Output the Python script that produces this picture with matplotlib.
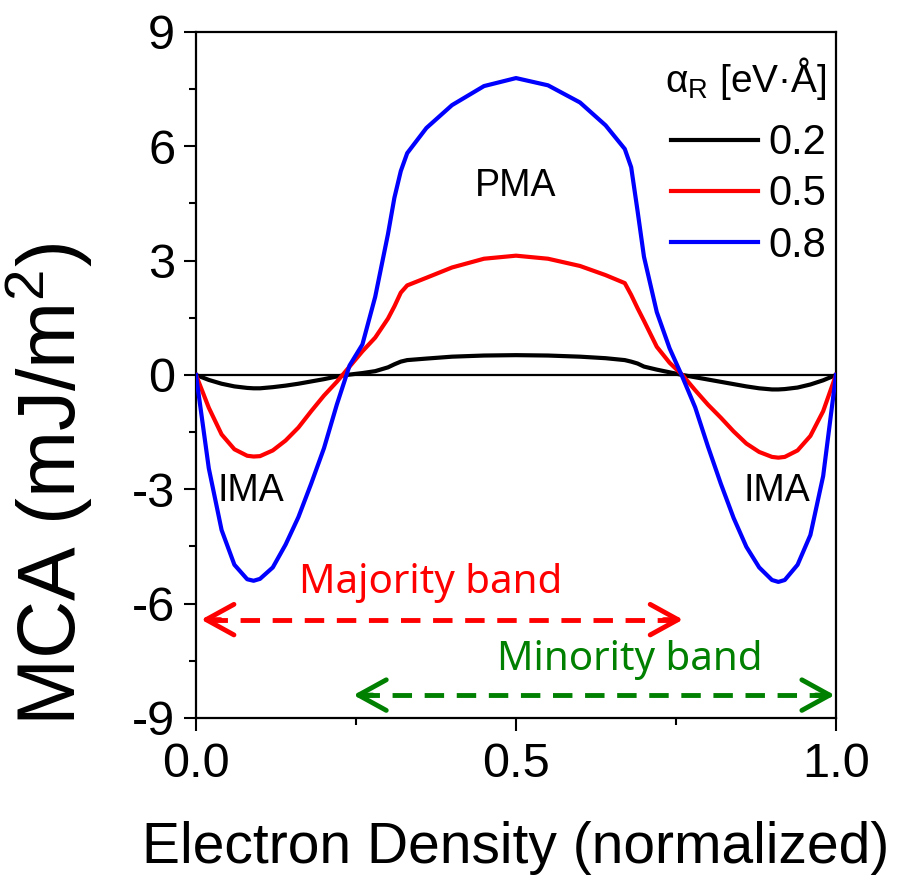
import numpy as np
import matplotlib
matplotlib.use('Agg')
import matplotlib.pyplot as plt

plt.rcParams['font.family'] = ['Liberation Sans', 'DejaVu Sans']
plt.rcParams['axes.unicode_minus'] = False
plt.rcParams['mathtext.fontset'] = 'custom'
plt.rcParams['mathtext.rm'] = 'Liberation Sans'
plt.rcParams['mathtext.it'] = 'Liberation Sans'

# data
densidad = [0.00, 0.02, 0.04, 0.06, 0.08, 0.09, 0.10, 0.12, 0.14, 0.16, 0.18,
            0.20, 0.22, 0.24, 0.26, 0.28, 0.30, 0.31, 0.32, 0.33, 0.36, 0.40,
            0.45, 0.50, 0.55, 0.60, 0.64, 0.67, 0.68, 0.69, 0.70, 0.72, 0.74,
            0.76, 0.78, 0.80, 0.82, 0.84, 0.86, 0.88, 0.90, 0.91, 0.92, 0.94,
            0.96, 0.98, 1.00]
mca_02 = [0.00, -0.13, -0.23, -0.30, -0.34, -0.35, -0.35, -0.32, -0.28, -0.23, -0.17,
          -0.11, -0.04, 0.01, 0.05, 0.10, 0.20, 0.28, 0.35, 0.39, 0.43, 0.48,
          0.51, 0.52, 0.51, 0.48, 0.44, 0.39, 0.35, 0.30, 0.22, 0.14, 0.07,
          0.00, -0.06, -0.12, -0.18, -0.24, -0.30, -0.35, -0.38, -0.38, -0.37, -0.33,
          -0.25, -0.14, 0.00]
mca_05 = [0.00, -0.86, -1.56, -1.95, -2.12, -2.14, -2.13, -1.98, -1.72, -1.38, -0.95,
          -0.54, -0.18, 0.22, 0.62, 0.98, 1.48, 1.80, 2.16, 2.35, 2.55, 2.82,
          3.05, 3.13, 3.05, 2.86, 2.62, 2.41, 2.10, 1.75, 1.42, 0.74, 0.32,
          0.00, -0.40, -0.78, -1.12, -1.48, -1.80, -2.02, -2.15, -2.17, -2.15, -1.98,
          -1.60, -0.95, 0.00]
mca_08 = [0.00, -2.45, -4.07, -4.98, -5.36, -5.40, -5.35, -5.05, -4.45, -3.73, -2.85,
          -1.92, -0.78, 0.25, 0.80, 2.05, 3.70, 4.65, 5.35, 5.82, 6.48, 7.08,
          7.58, 7.79, 7.60, 7.15, 6.55, 5.93, 5.45, 4.30, 3.10, 1.65, 0.70,
          -0.05, -0.85, -1.88, -2.85, -3.75, -4.51, -5.05, -5.38, -5.43, -5.38, -4.98,
          -4.20, -2.65, 0.00]
etiquetas = ['0.2', '0.5', '0.8']
colores = ['black', 'red', 'blue']

mayoritaria = (0.008, 0.761)
minoritaria = (0.246, 0.998)
y_mayoritaria = -6.42
y_minoritaria = -8.40

fig = plt.figure(figsize=(9.02, 8.83), dpi=100)
ax = fig.add_axes([0.2173, 0.1869, 0.7095, 0.7769])

ax.axhline(0, color='black', lw=1.6, zorder=1)
for yy, lab, col in zip([mca_02, mca_05, mca_08], etiquetas, colores):
    ax.plot(densidad, yy, color=col, lw=3.0, label=lab, zorder=3)

ax.set_xlim(0, 1)
ax.set_ylim(-9, 9)
ax.set_xticks([0.0, 0.5, 1.0])
ax.set_xticklabels(['0.0', '0.5', '1.0'])
ax.set_xticks([0.25, 0.75], minor=True)
ax.set_yticks([-9, -6, -3, 0, 3, 6, 9])
ax.set_yticks([-7.5, -4.5, -1.5, 1.5, 4.5, 7.5], minor=True)
ax.tick_params(which='major', direction='out', length=9, width=1.5, labelsize=35, pad=6)
ax.tick_params(which='minor', direction='out', length=5, width=1.5)
ax.tick_params(axis='x', which='major', pad=8)
for s in ax.spines.values():
    s.set_linewidth(1.6)

ax.set_xlabel('Electron Density (normalized)', fontsize=41)
ax.xaxis.set_label_coords(0.5, -0.15)
ax.set_ylabel('MCA (mJ/m$\\mathregular{^2}$)', fontsize=58)
ax.yaxis.set_label_coords(-0.16, 0.34)

ax.text(0.5, 4.95, 'PMA', fontsize=27, ha='center', va='center')
ax.text(0.085, -3.05, 'IMA', fontsize=27, ha='center', va='center')
ax.text(0.908, -3.05, 'IMA', fontsize=27, ha='center', va='center')

# flechas de las bandas
for (x0, x1), yb, col in [(mayoritaria, y_mayoritaria, 'red'),
                          (minoritaria, y_minoritaria, 'green')]:
    ax.plot([x0 + 0.01, x1 - 0.01], [yb, yb], color=col, lw=3.5, ls=(0, (4, 2.6)))
    for xt, xf in [(x0, x0 + 0.03), (x1, x1 - 0.03)]:
        ax.annotate('', xy=(xt, yb), xytext=(xf, yb),
                    arrowprops=dict(arrowstyle='->,head_length=1.0,head_width=0.55',
                                    color=col, lw=3.5, mutation_scale=20,
                                    shrinkA=0, shrinkB=0))
ax.text(0.366, -5.45, 'Majority band', color='red', fontsize=29, family='Noto Sans',
        ha='center', va='center')
ax.text(0.677, -7.48, 'Minority band', color='green', fontsize=29, family='Noto Sans',
        ha='center', va='center')

leg = ax.legend(loc='upper right', bbox_to_anchor=(0.985, 0.966), frameon=False,
                fontsize=30, title='$\\mathregular{α_R}$ [eV·Å]', title_fontsize=28,
                handlelength=2.1, handletextpad=0.25, labelspacing=0.27,
                borderpad=0, borderaxespad=0)
leg._legend_box.align = 'right'
leg._legend_box.sep = 15

fig.savefig('out.png', dpi=100)
